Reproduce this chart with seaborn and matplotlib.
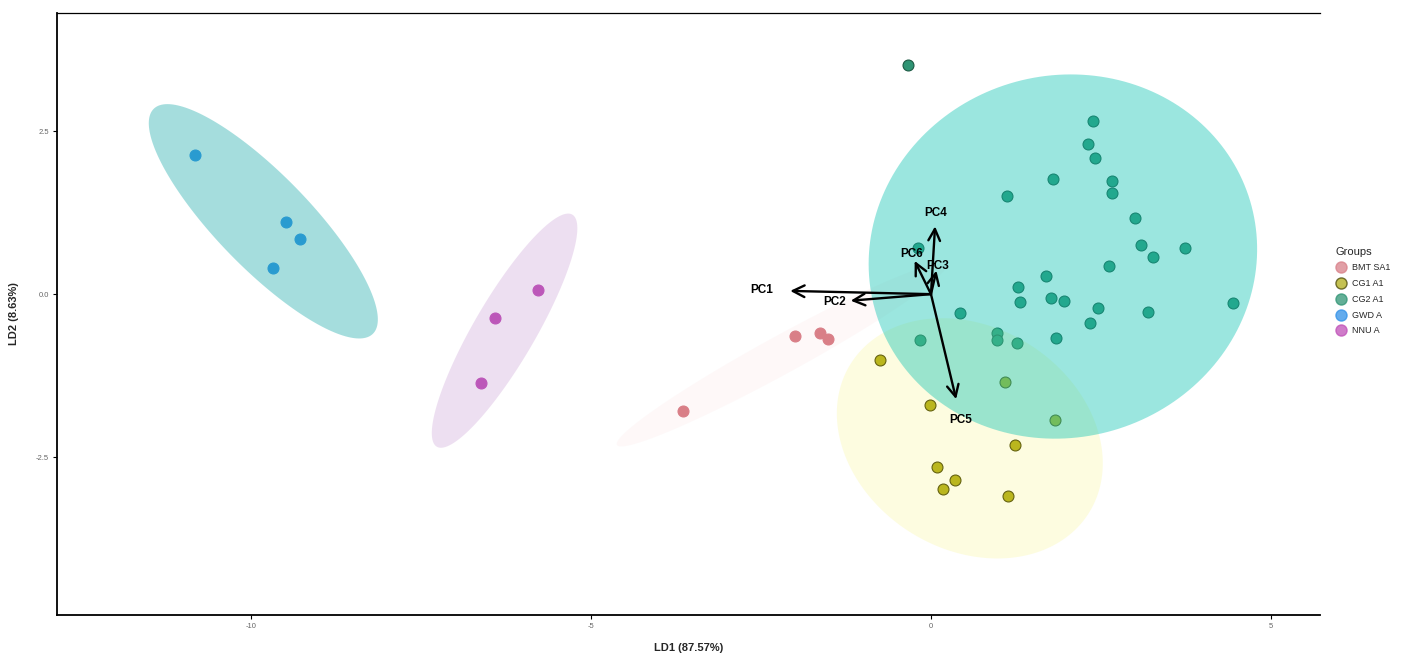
import numpy as np
import pandas as pd
import matplotlib
matplotlib.use("Agg")
import matplotlib.pyplot as plt
from matplotlib.lines import Line2D
import seaborn as sns

# ---- LDA scores per group ----
groups = ["BMT SA1", "CG1 A1", "CG2 A1", "GWD A", "NNU A"]

bmt_x = [-2.00, -1.63, -1.51, -3.65]
bmt_y = [-0.64, -0.60, -0.69, -1.79]

cg1_x = [-0.75, -0.01, 1.24, 0.09, 0.35, 0.18, 1.13, 1.09, 1.82]
cg1_y = [-1.01, -1.70, -2.32, -2.65, -2.85, -2.99, -3.10, -1.35, -1.93]

cg2_x = [-0.34, 2.38, 2.31, 2.41, 1.79, 2.66, 2.66, 1.12, 3.00, 3.09, 3.26, 3.74,
         2.62, 1.69, 1.28, 1.31, 1.76, 1.96, 2.46, 3.19, 4.44, 2.34, 1.84, 0.97,
         0.97, 1.26, 0.43, -0.16, -0.19]
cg2_y = [3.51, 2.65, 2.30, 2.09, 1.76, 1.73, 1.55, 1.50, 1.17, 0.75, 0.57, 0.71,
         0.43, 0.28, 0.11, -0.12, -0.06, -0.11, -0.21, -0.28, -0.14, -0.44, -0.67, -0.60,
         -0.71, -0.75, -0.29, -0.71, 0.71]

gwd_x = [-10.82, -9.49, -9.28, -9.68]
gwd_y = [2.13, 1.10, 0.84, 0.40]

nnu_x = [-5.78, -6.41, -6.62]
nnu_y = [0.06, -0.37, -1.37]

# ---- variable loadings drawn as biplot arrows ----
pc_names = ["PC1", "PC2", "PC3", "PC4", "PC5", "PC6"]
pc_x = [-2.07, -1.18, 0.08, 0.06, 0.37, -0.24]
pc_y = [0.05, -0.10, 0.36, 1.04, -1.61, 0.51]

x_ticks = [-10, -5, 0, 5]
y_ticks = [-2.5, 0.0, 2.5]

# ---- styling ----
point_colors = {"BMT SA1": "#d87f88", "CG1 A1": "#b0ac18", "CG2 A1": "#2f9474",
                "GWD A": "#3090e8", "NNU A": "#c050b8"}
edge_colors = {"BMT SA1": "#d87f88", "CG1 A1": "#4a4808", "CG2 A1": "#1d5a44",
               "GWD A": "#3090e8", "NNU A": "#c050b8"}
ellipse_fill = {"BMT SA1": ("#f08080", 0.05), "CG1 A1": ("#f4f040", 0.16),
                "CG2 A1": ("#11c5b4", 0.42), "GWD A": ("#20acac", 0.40),
                "NNU A": ("#b070c0", 0.22)}

df = pd.concat([
    pd.DataFrame({"LD1": bmt_x, "LD2": bmt_y, "Groups": "BMT SA1"}),
    pd.DataFrame({"LD1": cg1_x, "LD2": cg1_y, "Groups": "CG1 A1"}),
    pd.DataFrame({"LD1": cg2_x, "LD2": cg2_y, "Groups": "CG2 A1"}),
    pd.DataFrame({"LD1": gwd_x, "LD2": gwd_y, "Groups": "GWD A"}),
    pd.DataFrame({"LD1": nnu_x, "LD2": nnu_y, "Groups": "NNU A"}),
], ignore_index=True)

sns.set_theme(style="white")
plt.rcParams["font.family"] = ["Liberation Sans", "DejaVu Sans"]

fig = plt.figure(figsize=(14.27, 6.57), dpi=100)
ax = fig.add_axes([0.040, 0.064, 0.885, 0.916])

# points
for g in groups:
    sub = df[df["Groups"] == g]
    sns.scatterplot(data=sub, x="LD1", y="LD2", color=point_colors[g],
                    edgecolor=edge_colors[g], linewidth=0.8, s=62, ax=ax,
                    legend=False, zorder=2)


def conf_ellipse(x, y, level=0.95, n=200):
    """Normal-theory confidence ellipse of a group's scores."""
    xy = np.column_stack([x, y])
    mu = xy.mean(axis=0)
    cov = np.cov(xy, rowvar=False)
    vals, vecs = np.linalg.eigh(cov)
    r = np.sqrt(-2.0 * np.log(1.0 - level))
    t = np.linspace(0, 2 * np.pi, n)
    circ = np.vstack([np.cos(t), np.sin(t)])
    pts = (vecs @ np.diag(np.sqrt(vals)) @ circ) * r
    return mu[0] + pts[0], mu[1] + pts[1]


# ellipses laid over the points
for g in ["BMT SA1", "NNU A", "GWD A", "CG1 A1", "CG2 A1"]:
    sub = df[df["Groups"] == g]
    ex, ey = conf_ellipse(sub["LD1"].values, sub["LD2"].values)
    col, a = ellipse_fill[g]
    ax.fill(ex, ey, facecolor=col, alpha=a, edgecolor="none", zorder=3)

# loading arrows and labels
for name, vx, vy in zip(pc_names, pc_x, pc_y):
    ax.annotate("", xy=(vx, vy), xytext=(0, 0),
                arrowprops=dict(arrowstyle="->,head_length=0.7,head_width=0.35",
                                color="black", lw=1.7, shrinkA=0, shrinkB=0),
                zorder=4)
    ax.text(vx * 1.2, vy * 1.2, name, ha="center", va="center",
            fontsize=8.5, fontweight="bold", color="black", zorder=5)

ax.set_xlim(-12.85, 5.72)
ax.set_ylim(-4.92, 4.31)
ax.set_xticks(x_ticks)
ax.set_xticklabels([str(v) for v in x_ticks])
ax.set_yticks(y_ticks)
ax.set_yticklabels([f"{v:.1f}" for v in y_ticks])
ax.tick_params(axis="both", which="major", length=3, width=0.8, color="black",
               labelsize=5.5, labelcolor="#666666", direction="out",
               bottom=True, left=True, pad=3)
ax.grid(False)
for side in ["left", "bottom", "top"]:
    ax.spines[side].set_visible(True)
    ax.spines[side].set_color("black")
ax.spines["left"].set_linewidth(1.3)
ax.spines["bottom"].set_linewidth(1.3)
ax.spines["top"].set_linewidth(0.9)
ax.spines["right"].set_visible(False)

ax.set_xlabel("LD1 (87.57%)", fontsize=8, fontweight="bold", labelpad=9)
ax.set_ylabel("LD2 (8.63%)", fontsize=8, fontweight="bold", labelpad=12)

# legend
handles = []
for g in groups:
    handles.append(Line2D([0], [0], marker="o", linestyle="none", markersize=8,
                          markerfacecolor=point_colors[g],
                          markeredgecolor=edge_colors[g] if g == "CG1 A1" else point_colors[g],
                          markeredgewidth=1.0, alpha=0.75))
leg = fig.legend(handles, groups, title="Groups", loc="upper left",
                 bbox_to_anchor=(1332 / 1427, 1 - 243 / 657), frameon=False,
                 fontsize=6.5, title_fontsize=8, handletextpad=0.6,
                 labelspacing=0.75, borderaxespad=0, handlelength=1.2)
leg._legend_box.align = "left"

fig.savefig("out.png", dpi=100)
